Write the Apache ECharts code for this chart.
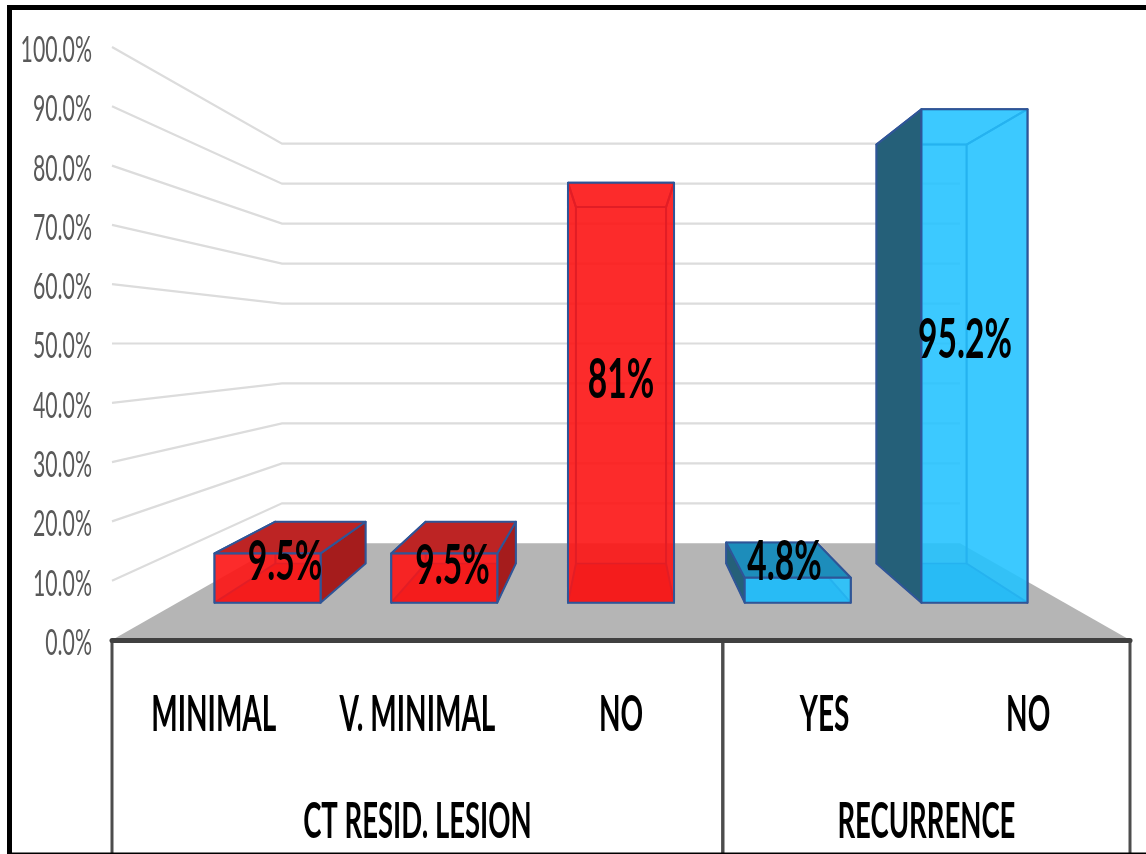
<!DOCTYPE html>
<html>
<head>
<meta charset="utf-8">
<style>html,body{margin:0;padding:0;background:#fff}#c{width:1146px;height:854px}</style>
<script src="https://cdn.jsdelivr.net/npm/echarts@6/dist/echarts.min.js"></script>
</head>
<body>
<div id="c"></div>
<script>
const categories = ['MINIMAL', 'V. MINIMAL', 'NO', 'YES', 'NO'];
const values = [9.5, 9.5, 81, 4.8, 95.2];
const valueLabels = ['9.5%', '9.5%', '81%', '4.8%', '95.2%'];
const barGroups = [0, 0, 0, 1, 1];
const groupNames = ['CT RESID. LESION', 'RECURRENCE'];
const groupStarts = [0, 3];
const groupEnds = [3, 5];
const tickValues = [0, 10, 20, 30, 40, 50, 60, 70, 80, 90, 100];
const tickLabels = ['0.0%', '10.0%', '20.0%', '30.0%', '40.0%', '50.0%', '60.0%', '70.0%', '80.0%', '90.0%', '100.0%'];

// perspective depths (1 = axis plane), horizontal and vertical
const K_WALL = [0.666, 0.674], K_FRONT = [0.868, 0.874], K_BACK = [0.738, 0.742];
const BAR_FRACTION = 0.6;
const FONT = 'Lato, "Open Sans", sans-serif';
const labelNudge = [[-9, 2], [-5, 6], [0, -9], [0, -10], [17, -15]];
const palettes = [
  { front: 'rgba(252,22,22,0.88)', back: 'rgba(255,50,50,0.3)', floor: 'rgba(190,0,0,0.6)', side: '#a51c1c', top: '#bd2424' },
  { front: 'rgba(35,195,255,0.85)', back: 'rgba(30,180,240,0.25)', floor: 'rgba(0,120,190,0.6)', side: '#256079', top: '#1d8dbb' }
];
const EDGE = '#2f5597';

function viewPoint(api) { return api.coord([2, 50]); }
function proj(p, vp, k) { return [vp[0] + (p[0] - vp[0]) * k[0], vp[1] + (p[1] - vp[1]) * k[1]]; }

function renderWall(params, api) {
  const v = api.value(1);
  const vp = viewPoint(api);
  const band = api.size([1, 0])[0];
  const y = api.coord([0, v])[1];
  const xL = api.coord([0, v])[0] - band / 2;
  const xR = api.coord([4, v])[0] + band / 2;
  const a = [xL, y], b = proj(a, vp, K_WALL), c = proj([xR, y], vp, K_WALL);
  const children = [];
  if (v === 0) {
    children.push({ type: 'polygon', shape: { points: [[xL, y], [xR, y], c, b] }, style: { fill: '#b5b5b5' } });
  } else {
    children.push({ type: 'polyline', shape: { points: [a, b, c] }, style: { stroke: '#dcdcdc', lineWidth: 2.2, fill: 'none' } });
  }
  children.push({
    type: 'text', x: xL - 20, y: y + 3, scaleX: 0.575, scaleY: 1,
    style: { x: 0, y: 0, text: tickLabels[params.dataIndex], fill: '#595959', fontFamily: FONT, fontSize: 37, align: 'right', verticalAlign: 'middle' }
  });
  return { type: 'group', children };
}

function renderBar(params, api) {
  const i = api.value(0), v = api.value(1);
  const vp = viewPoint(api);
  const w = api.size([1, 0])[0] * BAR_FRACTION;
  const cx = api.coord([i, 0])[0];
  const y0 = api.coord([i, 0])[1], y1 = api.coord([i, v])[1];
  const pal = palettes[barGroups[i]];
  const x0 = cx - w / 2, x1 = cx + w / 2;
  const f = (x, y) => proj([x, y], vp, K_FRONT);
  const b = (x, y) => proj([x, y], vp, K_BACK);
  const face = (pts, fill, lw) => ({ type: 'polygon', shape: { points: pts }, style: { fill, stroke: EDGE, lineWidth: lw, lineJoin: 'round' } });
  const children = [
    face([b(x0, y0), b(x1, y0), f(x1, y0), f(x0, y0)], pal.floor, 1),
    face([b(x0, y0), b(x1, y0), b(x1, y1), b(x0, y1)], pal.back, 1.5)
  ];
  const leftVisible = b(x0, y0)[0] < f(x0, y0)[0];
  const rightVisible = b(x1, y0)[0] > f(x1, y0)[0];
  const topVisible = b(x0, y1)[1] < f(x0, y1)[1];
  const left = [f(x0, y0), b(x0, y0), b(x0, y1), f(x0, y1)];
  const right = [f(x1, y0), b(x1, y0), b(x1, y1), f(x1, y1)];
  const top = [f(x0, y1), f(x1, y1), b(x1, y1), b(x0, y1)];
  // the underside of a tall bar sits behind its side faces; an open top sits in front
  if (!topVisible) children.push(face(top, pal.back, 2));
  children.push(face(left, leftVisible ? pal.side : pal.back, 2));
  children.push(face(right, rightVisible ? pal.side : pal.back, 2));
  if (topVisible) children.push(face(top, pal.top, 2));
  children.push(face([f(x0, y0), f(x1, y0), f(x1, y1), f(x0, y1)], pal.front, 2));
  const kMid = [(K_FRONT[0] + K_BACK[0]) / 2, (K_FRONT[1] + K_BACK[1]) / 2];
  const mid = proj(api.coord([i, v / 2]), vp, kMid);
  children.push({
    type: 'text', x: mid[0] + labelNudge[i][0], y: mid[1] + labelNudge[i][1], scaleX: 0.6, scaleY: 1,
    style: { x: 0, y: 0, text: valueLabels[i], fill: '#000', fontFamily: FONT, fontWeight: 'bold', fontSize: 56, align: 'center', verticalAlign: 'middle' }
  });
  return { type: 'group', children };
}

function renderCategory(params, api) {
  const i = api.value(0);
  const p = api.coord([i, 0]);
  return {
    type: 'text', x: p[0], y: p[1] + 75, scaleX: 0.56, scaleY: 1,
    style: { x: 0, y: 0, text: categories[i], fill: '#000', fontFamily: FONT, fontWeight: 'bold', fontSize: 50, align: 'center', verticalAlign: 'middle' }
  };
}

function renderGroup(params, api) {
  const g = params.dataIndex;
  const band = api.size([1, 0])[0];
  const y = api.coord([0, 0])[1];
  const xa = api.coord([groupStarts[g], 0])[0] - band / 2;
  const xb = api.coord([groupEnds[g] - 1, 0])[0] + band / 2;
  const line = x => ({ type: 'line', shape: { x1: x, y1: y, x2: x, y2: y + 220 }, style: { stroke: '#4d4d4d', lineWidth: 3 } });
  return {
    type: 'group',
    children: [
      line(xa), line(xb),
      {
        type: 'text', x: (xa + xb) / 2, y: y + 182, scaleX: 0.55, scaleY: 1,
        style: { x: 0, y: 0, text: groupNames[g], fill: '#000', fontFamily: FONT, fontWeight: 'bold', fontSize: 50, align: 'center', verticalAlign: 'middle' }
      }
    ]
  };
}

const chart = echarts.init(document.getElementById('c'), null, { renderer: 'canvas' });
chart.setOption({
  animation: false,
  backgroundColor: '#fff',
  grid: { left: 112, right: 16, top: 47, bottom: 214 },
  xAxis: {
    type: 'category', data: categories, z: 6, offset: 1.5,
    axisLine: { show: true, lineStyle: { color: '#404040', width: 5 } },
    axisTick: { show: false }, axisLabel: { show: false }, splitLine: { show: false }
  },
  yAxis: {
    type: 'value', min: 0, max: 100, interval: 10,
    axisLine: { show: false }, axisTick: { show: false }, axisLabel: { show: false }, splitLine: { show: false }
  },
  graphic: [{ type: 'rect', z: 100, silent: true, shape: { x: 9.5, y: 7.5, width: 1300, height: 847.5 }, style: { fill: 'none', stroke: '#000', lineWidth: 5 } }],
  series: [
    { type: 'custom', z: 1, clip: false, silent: true, renderItem: renderWall, data: tickValues.map(v => [0, v]) },
    { type: 'custom', z: 3, clip: false, silent: true, renderItem: renderBar, data: values.map((v, i) => [i, v]) },
    { type: 'custom', z: 4, clip: false, silent: true, renderItem: renderCategory, data: categories.map((c, i) => [i, 0]) },
    { type: 'custom', z: 4, clip: false, silent: true, renderItem: renderGroup, data: groupNames.map((g, i) => [groupStarts[i], 0]) }
  ]
});
</script>
</body>
</html>
